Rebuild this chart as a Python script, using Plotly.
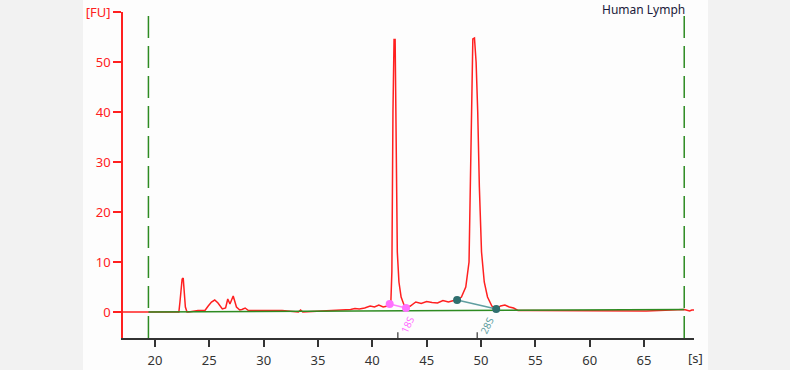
import plotly.graph_objects as go

# Electropherogram trace (time in s, fluorescence in FU)
time_s = [17.0, 19.4, 22.2, 22.3, 22.4, 22.5, 22.6, 22.7, 22.8, 22.95, 23.1,
          23.96, 24.6, 24.9, 25.2, 25.5, 25.8, 26.2, 26.5, 26.7, 26.9, 27.05, 27.2, 27.5, 27.8,
          28.0, 28.3, 28.6, 31.7, 33.2, 33.4, 33.6, 37.0, 38.0, 38.4, 38.8, 39.3,
          39.8, 40.2, 40.6, 41.0, 41.4, 41.7, 41.8, 41.9, 42.0, 42.1, 42.2, 42.3,
          42.45, 42.65, 42.9, 43.1, 43.5, 44.0, 44.5, 45.0, 45.5, 46.0, 46.5, 47.0,
          47.5, 47.8, 48.2, 48.6, 48.9, 49.05, 49.15, 49.25, 49.4, 49.55, 49.7,
          49.85, 50.05, 50.3, 50.6, 51.0, 51.4, 51.8, 52.2, 52.6, 53.0, 53.4, 54.5,
          54.8, 56.3, 65.2, 68.7, 69.0, 69.2, 69.4, 69.6]
fu = [0.0, 0.0, 0.0, 2.0, 4.5, 6.6, 6.8, 3.5, 1.0, 0.0, 0.0,
      0.3, 0.3, 1.2, 2.0, 2.4, 1.8, 0.6, 0.8, 2.6, 1.6, 2.4, 3.2, 1.0, 0.4,
      0.5, 0.8, 0.3, 0.3, 0.0, 0.4, 0.0, 0.3, 0.5, 0.7, 0.6, 0.8,
      1.2, 1.0, 1.4, 1.0, 1.2, 1.6, 8.0, 40.0, 54.5, 54.5, 30.0, 12.0,
      6.0, 3.0, 1.5, 0.8, 1.2, 2.0, 1.7, 2.1, 1.9, 1.8, 2.3, 2.0,
      2.3, 2.4, 3.0, 5.0, 10.0, 30.0, 45.0, 54.6, 54.8, 50.0, 40.0,
      25.0, 12.0, 6.0, 3.0, 1.2, 0.6, 1.2, 1.4, 1.0, 0.8, 0.3, 0.3,
      0.3, 0.2, 0.2, 0.5, 0.4, 0.2, 0.4, 0.4]

# Baseline (green) and run window
baseline_t = [19.4, 68.7]
baseline_fu = [0.0, 0.5]
window_t = [19.4, 68.7]

# Fragment start/end markers
frag18_t = [41.6, 43.1]
frag18_fu = [1.6, 0.8]
frag28_t = [47.8, 51.4]
frag28_fu = [2.4, 0.6]
frag_labels = ["18S", "28S"]
frag_label_t = [43.2, 50.55]

# Peak tick marks on the time axis
peak_t = [42.35, 49.65]

x_ticks = [20, 25, 30, 35, 40, 45, 50, 55, 60, 65]
y_ticks = [0, 10, 20, 30, 40, 50, 60]
y_ticktext = ["0", "10", "20", "30", "40", "50", "[FU]"]

RED = "#ff2020"
GREEN = "#2e8b22"
font_family = "Noto Sans, DejaVu Sans, sans-serif"

fig = go.Figure()

fig.add_trace(go.Scatter(x=time_s, y=fu, mode="lines",
                         line=dict(color=RED, width=1.5), hoverinfo="skip"))
fig.add_trace(go.Scatter(x=baseline_t, y=baseline_fu, mode="lines",
                         line=dict(color=GREEN, width=1.5), hoverinfo="skip"))
fig.add_trace(go.Scatter(x=frag18_t, y=frag18_fu, mode="lines+markers",
                         line=dict(color="#ff80ff", width=1.5),
                         marker=dict(color="#ff70ff", size=8), hoverinfo="skip"))
fig.add_trace(go.Scatter(x=frag28_t, y=frag28_fu, mode="lines+markers",
                         line=dict(color="#5f9ea0", width=1.5),
                         marker=dict(color="#2f6f6f", size=8), hoverinfo="skip"))

for t in window_t:
    fig.add_shape(type="line", xref="x", yref="paper", x0=t, x1=t, y0=0, y1=1,
                  line=dict(color=GREEN, width=1.5, dash="22px,8px"))
for t in peak_t:
    fig.add_shape(type="line", xref="x", yref="paper", x0=t, x1=t, y0=0, y1=0.018,
                  line=dict(color="#333333", width=1.2))

# background panel
fig.add_shape(type="rect", xref="paper", yref="paper", x0=-0.07, x1=1.0245,
              y0=-0.1, y1=1.04, fillcolor="#fdfdfd", line=dict(width=0), layer="below")

for lab, t, col in zip(frag_labels, frag_label_t, ["#ff70ff", "#5f9ea0"]):
    fig.add_annotation(x=t, y=-2.6, text=lab, showarrow=False, textangle=-65,
                       font=dict(size=10, color=col, family=font_family))

fig.add_annotation(xref="paper", yref="paper", x=0.988, y=1.008, xanchor="right",
                   yanchor="middle", text="Human Lymph", showarrow=False,
                   font=dict(size=12, color="#1a1a3a", family=font_family))
fig.add_annotation(xref="paper", yref="paper", x=1.002, y=-0.06, xanchor="center",
                   yanchor="middle", text="[s]", showarrow=False,
                   font=dict(size=13, color="#333333", family=font_family))

fig.update_layout(
    width=790, height=370,
    margin=dict(l=123, r=96, t=12, b=32),
    paper_bgcolor="#f2f2f2",
    plot_bgcolor="rgba(0,0,0,0)",
    showlegend=False,
    xaxis=dict(range=[17.06, 69.6], tickvals=x_ticks, showgrid=False, zeroline=False,
               automargin=False, ticklabelstandoff=3,
               showline=True, linecolor="#333333", linewidth=1.5,
               ticks="outside", ticklen=7, tickwidth=1.5, tickcolor="#333333",
               tickfont=dict(size=13, color="#333333", family=font_family)),
    yaxis=dict(range=[-5.2, 60], tickvals=y_ticks, ticktext=y_ticktext,
               showgrid=False, zeroline=False, automargin=False,
               showline=True, linecolor=RED, linewidth=1.5,
               ticks="outside", ticklen=8, tickwidth=1.5, tickcolor=RED,
               tickfont=dict(size=13, color=RED, family=font_family)),
)

fig.write_html("out.html")
